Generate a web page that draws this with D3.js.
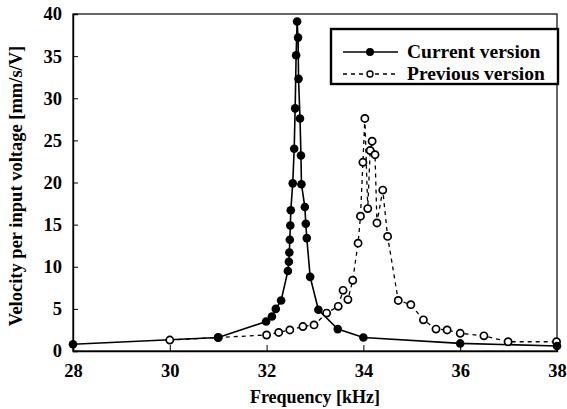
<!DOCTYPE html>
<html>
<head>
<meta charset="utf-8">
<title>Velocity vs frequency</title>
<style>
	body {margin: 0; background: #fff;}
	svg text {font-family: "Liberation Serif", "Times New Roman", serif; font-weight: bold; fill: #000;}
	.axis path, .axis line {stroke: #000;}
</style>
</head>
<body>
<script src="https://cdn.jsdelivr.net/npm/d3@7"></script>
<script>

var W = 567, H = 409;

// current version (filled markers)
var curFreq = [28, 31, 31.99, 32.11, 32.19, 32.30, 32.44, 32.46, 32.47, 32.48, 32.49, 32.50, 32.54, 32.57, 32.59, 32.61, 32.63,
	32.65, 32.66, 32.69, 32.71, 32.72, 32.79, 32.81, 32.83, 32.90, 33.07, 33.47, 34.0, 36.0, 38.0];
var curVel = [0.8, 1.6, 3.5, 4.1, 5.0, 6.0, 9.5, 10.6, 11.7, 13.2, 14.9, 16.7, 19.9, 24.0, 28.8, 35.1, 39.1,
	37.2, 32.3, 27.6, 23.2, 19.8, 17.1, 15.1, 13.4, 8.8, 4.9, 2.6, 1.6, 0.9, 0.6];

// previous version (open markers)
var prevFreq = [30.0, 31.0, 32.0, 32.25, 32.48, 32.75, 32.98, 33.24, 33.48, 33.58, 33.68, 33.78, 33.89, 33.94, 33.99, 34.03,
	34.09, 34.14, 34.18, 34.24, 34.28, 34.40, 34.50, 34.72, 34.98, 35.24, 35.50, 35.73, 36.0, 36.49, 36.99, 37.99];
var prevVel = [1.3, 1.6, 1.9, 2.2, 2.5, 2.9, 3.1, 4.5, 5.3, 7.2, 6.1, 8.4, 12.8, 16.0, 22.4, 27.6,
	16.9, 23.8, 24.9, 23.3, 15.2, 19.1, 13.6, 6.0, 5.5, 3.7, 2.6, 2.5, 2.1, 1.8, 1.1, 1.1];

var xTicks = [28, 30, 32, 34, 36, 38];
var yTicks = [0, 5, 10, 15, 20, 25, 30, 35, 40];
var seriesNames = ["Current version", "Previous version"];

var svg = d3.select("body").append("svg").attr("width", W).attr("height", H);

var x = d3.scaleLinear().domain([28, 38]).range([73, 557]);
var y = d3.scaleLinear().domain([0, 40]).range([351, 14]);

// frame
svg.append("rect")
	.attr("x", x(28)).attr("y", y(40))
	.attr("width", x(38) - x(28)).attr("height", y(0) - y(40))
	.attr("fill", "none").attr("stroke", "#000").attr("stroke-width", 1.2);

var xAxis = svg.append("g").attr("class", "axis")
	.attr("transform", "translate(0," + y(0) + ")")
	.call(d3.axisBottom(x).tickValues(xTicks).tickSize(-6).tickPadding(13));
var yAxis = svg.append("g").attr("class", "axis")
	.attr("transform", "translate(" + x(28) + ",0)")
	.call(d3.axisLeft(y).tickValues(yTicks).tickSize(-5).tickPadding(11));
svg.selectAll(".axis .domain").attr("stroke-width", 1.4);
svg.selectAll(".axis text").style("font-size", "18.5px");

// axis titles
svg.append("text")
	.attr("x", 315).attr("y", 403)
	.attr("text-anchor", "middle")
	.style("font-size", "18px")
	.text("Frequency [kHz]");
svg.append("text")
	.attr("transform", "translate(22,186) rotate(-90)")
	.attr("text-anchor", "middle")
	.style("font-size", "18.5px")
	.text("Velocity per input voltage [mm/s/V]");

var cur = curFreq.map(function(f, i) { return {f: f, v: curVel[i]}; });
var prev = prevFreq.map(function(f, i) { return {f: f, v: prevVel[i]}; });

var line = d3.line().x(function(d) { return x(d.f); }).y(function(d) { return y(d.v); });

svg.append("path").datum(prev)
	.attr("d", line).attr("fill", "none")
	.attr("stroke", "#000").attr("stroke-width", 1.3).attr("stroke-dasharray", "4,4");
svg.append("path").datum(cur)
	.attr("d", line).attr("fill", "none")
	.attr("stroke", "#000").attr("stroke-width", 1.6);

svg.selectAll("circle.prev").data(prev).enter().append("circle")
	.attr("class", "prev")
	.attr("cx", function(d) { return x(d.f); })
	.attr("cy", function(d) { return y(d.v); })
	.attr("r", 3.6).attr("fill", "#fff").attr("stroke", "#000").attr("stroke-width", 1.7);
svg.selectAll("circle.cur").data(cur).enter().append("circle")
	.attr("class", "cur")
	.attr("cx", function(d) { return x(d.f); })
	.attr("cy", function(d) { return y(d.v); })
	.attr("r", 4.3).attr("fill", "#000");

// legend
var lg = svg.append("g");
lg.append("rect").attr("x", 331).attr("y", 29).attr("width", 227).attr("height", 55)
	.attr("fill", "#fff").attr("stroke", "#000").attr("stroke-width", 2.4);
seriesNames.forEach(function(name, i) {
	var ly = 52 + i * 22;
	lg.append("line").attr("x1", 343).attr("x2", 398).attr("y1", ly).attr("y2", ly)
		.attr("stroke", "#000").attr("stroke-width", i == 0 ? 1.6 : 1.3)
		.attr("stroke-dasharray", i == 0 ? null : "4,4");
	if (i == 0) {
		lg.append("circle").attr("cx", 370).attr("cy", ly).attr("r", 4).attr("fill", "#000");
	} else {
		lg.append("circle").attr("cx", 370).attr("cy", ly).attr("r", 3).attr("fill", "#fff")
			.attr("stroke", "#000").attr("stroke-width", 1.4);
	}
	lg.append("text").attr("x", 407).attr("y", ly + 6).style("font-size", "19.5px").text(name);
});

</script>
</body>
</html>
